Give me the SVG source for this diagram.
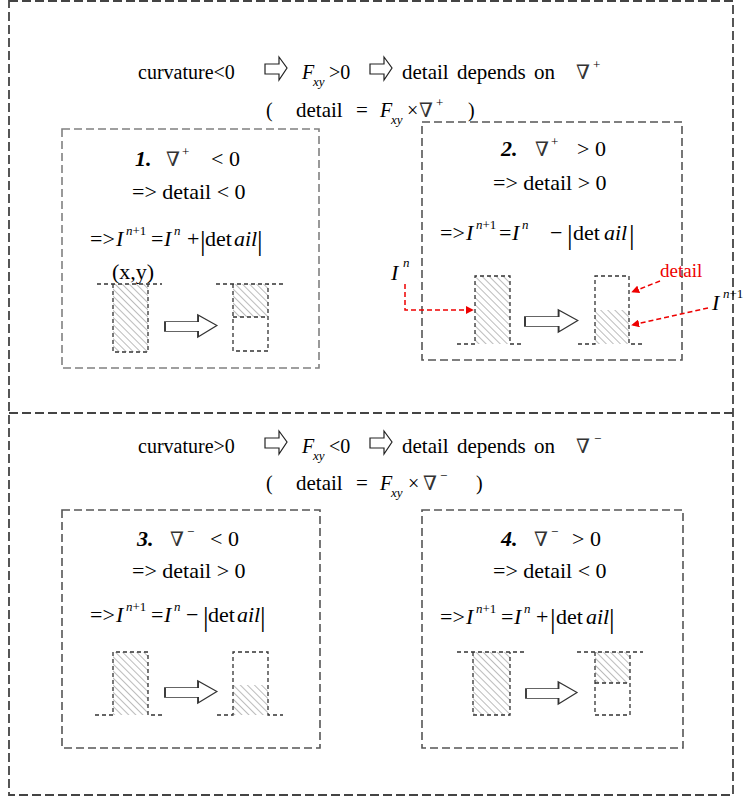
<svg xmlns="http://www.w3.org/2000/svg" width="744" height="798" viewBox="0 0 744 798">
<style>
.t{font-family:"Liberation Serif","DejaVu Serif",serif;font-size:20px;fill:#000}
.bx{font-size:22px}
.i{font-style:italic}
.b{font-weight:bold;font-style:italic}
.s{font-size:13px}
.bar{font-size:28px}
.nab{font-family:"DejaVu Serif","Liberation Serif",serif;font-size:20px;fill:#333}
.frame{fill:none;stroke:#444;stroke-width:1.8;stroke-dasharray:9 4}
.box{fill:none;stroke:#555;stroke-width:1.6;stroke-dasharray:8 4}
.d{fill:none;stroke:#333;stroke-width:1.3;stroke-dasharray:4 3}
.h{fill:url(#hatch);stroke:none}
.arr{fill:#fff;stroke:#333;stroke-width:0.8}
.glyph{fill:#fff;stroke:#222;stroke-width:1.2}
.red{fill:none;stroke:#e00;stroke-width:1.5;stroke-dasharray:5 3}
.rt{fill:#e00;font-size:19px}
</style>
<defs>
<pattern id="hatch" width="5" height="5" patternUnits="userSpaceOnUse" patternTransform="rotate(-45)">
<line x1="0" y1="0" x2="0" y2="5" stroke="#8f8f8f" stroke-width="1.2"/>
</pattern>
<marker id="rh" viewBox="0 0 10 10" refX="9" refY="5" markerWidth="8" markerHeight="8" orient="auto" markerUnits="userSpaceOnUse">
<path d="M0,0 L10,5 L0,10 z" fill="#e00"/>
</marker>
<path id="harrow" d="M0,7 H14 V0 L22,11 L14,23 V17 H0 Z"/>
</defs>
<rect width="744" height="798" fill="#fff"/>

<g id="frame">
<rect class="frame" x="9" y="1" width="724" height="794"/>
<line class="frame" x1="9" y1="413" x2="733" y2="413"/>
</g>

<g id="header-top">
<text class="t" x="138" y="79">curvature&lt;0</text>
<use href="#harrow" class="glyph" x="265" y="57"/>
<text class="t i" x="302" y="79">F</text>
<text class="t i s" x="313" y="86">xy</text>
<text class="t" x="329" y="79">&gt;0</text>
<use href="#harrow" class="glyph" x="370" y="57"/>
<text class="t" x="402" y="79" style="font-size:21px;word-spacing:3px">detail depends on</text>
<text class="t nab" x="576" y="79">∇</text>
<text class="t s" x="593" y="69">+</text>
<text class="t" x="266" y="117">(</text>
<text class="t" x="296" y="117" style="font-size:21px">detail</text>
<text class="t" x="356" y="117" style="font-size:21px">=</text>
<text class="t i" x="380" y="117">F</text>
<text class="t i s" x="391" y="124">xy</text>
<text class="t" x="407" y="117">×</text>
<text class="t nab" x="419" y="117">∇</text>
<text class="t s" x="436" y="107">+</text>
<text class="t" x="468" y="117">)</text>
</g>

<g id="header-bottom">
<text class="t" x="138" y="453">curvature&gt;0</text>
<use href="#harrow" class="glyph" x="265" y="431"/>
<text class="t i" x="302" y="453">F</text>
<text class="t i s" x="313" y="460">xy</text>
<text class="t" x="329" y="453">&lt;0</text>
<use href="#harrow" class="glyph" x="370" y="431"/>
<text class="t" x="402" y="453" style="font-size:21px;word-spacing:3px">detail depends on</text>
<text class="t nab" x="576" y="453">∇</text>
<text class="t s" x="594" y="443">−</text>
<text class="t" x="266" y="490">(</text>
<text class="t" x="296" y="490" style="font-size:21px">detail</text>
<text class="t" x="356" y="490" style="font-size:21px">=</text>
<text class="t i" x="380" y="490">F</text>
<text class="t i s" x="391" y="497">xy</text>
<text class="t" x="408" y="490">×</text>
<text class="t nab" x="423" y="490">∇</text>
<text class="t s" x="440" y="480">−</text>
<text class="t" x="476" y="490">)</text>
</g>

<g id="box1">
<rect class="box" x="62" y="129" width="257" height="239" style="stroke:#808080"/>
<text class="t bx b" x="135" y="166">1.</text>
<text class="t nab" x="166" y="166">∇</text>
<text class="t s" x="182" y="156">+</text>
<text class="t bx" x="211" y="166">&lt; 0</text>
<text class="t bx" x="132" y="199">=&gt; detail &lt; 0</text>
<text class="t bx" x="90" y="246">=&gt;</text>
<text class="t bx i" x="116" y="246">I</text>
<text class="t s" x="126" y="235"><tspan class="i">n</tspan>+1</text>
<text class="t bx" x="151" y="246">=</text>
<text class="t bx i" x="164" y="246">I</text>
<text class="t s i" x="174" y="235">n</text>
<text class="t bx" x="187" y="246">+</text>
<text class="t bar" x="200" y="250">|</text>
<text class="t bx" x="205" y="246">det</text>
<text class="t bx i" x="234" y="246">ail</text>
<text class="t bar" x="257" y="250">|</text>
<text class="t bx" x="112" y="279">(x,y)</text>
<rect class="h" x="113" y="284" width="35" height="68"/>
<path class="d" d="M97,284 H162 M113,284 V352 H148 V284"/>
<use href="#harrow" class="arr" transform="translate(165,315) scale(2.36,0.96)"/>
<rect class="h" x="233" y="284" width="35" height="33"/>
<path class="d" d="M216,284 H283 M233,284 V351 H268 V284 M233,317 H268"/>
</g>

<g id="box2">
<rect class="box" x="422" y="122" width="260" height="238"/>
<text class="t bx b" x="501" y="156">2.</text>
<text class="t nab" x="535" y="156">∇</text>
<text class="t s" x="551" y="146">+</text>
<text class="t bx" x="577" y="156">&gt; 0</text>
<text class="t bx" x="493" y="190">=&gt; detail &gt; 0</text>
<text class="t bx" x="440" y="240">=&gt;</text>
<text class="t bx i" x="466" y="240">I</text>
<text class="t s" x="476" y="229"><tspan class="i">n</tspan>+1</text>
<text class="t bx" x="499" y="240">=</text>
<text class="t bx i" x="512" y="240">I</text>
<text class="t s i" x="522" y="229">n</text>
<text class="t bx" x="550" y="240">−</text>
<text class="t bar" x="567" y="244">|</text>
<text class="t bx" x="573" y="240">det</text>
<text class="t bx i" x="604" y="240">ail</text>
<text class="t bar" x="629" y="244">|</text>
<rect class="h" x="475" y="276" width="35" height="68"/>
<path class="d" d="M457,344 H475 V276 H510 V344 H523"/>
<use href="#harrow" class="arr" transform="translate(525,310) scale(2.4,0.96)"/>
<rect class="h" x="595" y="310" width="34" height="34"/>
<path class="d" d="M578,344 H595 V276 H629 V344 H645"/>
</g>

<g id="box3">
<rect class="box" x="62" y="510" width="258" height="238"/>
<text class="t bx b" x="137" y="546">3.</text>
<text class="t nab" x="170" y="546">∇</text>
<text class="t s" x="187" y="536">−</text>
<text class="t bx" x="210" y="546">&lt; 0</text>
<text class="t bx" x="132" y="578">=&gt; detail &gt; 0</text>
<text class="t bx" x="90" y="622">=&gt;</text>
<text class="t bx i" x="116" y="622">I</text>
<text class="t s" x="126" y="611"><tspan class="i">n</tspan>+1</text>
<text class="t bx" x="151" y="622">=</text>
<text class="t bx i" x="164" y="622">I</text>
<text class="t s i" x="174" y="611">n</text>
<text class="t bx" x="186" y="622">−</text>
<text class="t bar" x="203" y="626">|</text>
<text class="t bx" x="208" y="622">det</text>
<text class="t bx i" x="237" y="622">ail</text>
<text class="t bar" x="260" y="626">|</text>
<rect class="h" x="113" y="652" width="35" height="63"/>
<path class="d" d="M95,715 H113 V652 H148 V715 H162"/>
<use href="#harrow" class="arr" transform="translate(165,681) scale(2.36,0.96)"/>
<rect class="h" x="233" y="685" width="35" height="30"/>
<path class="d" d="M217,715 H233 V652 H268 V715 H283"/>
</g>

<g id="box4">
<rect class="box" x="422" y="510" width="261" height="238"/>
<text class="t bx b" x="501" y="546">4.</text>
<text class="t nab" x="534" y="546">∇</text>
<text class="t s" x="551" y="536">−</text>
<text class="t bx" x="572" y="546">&gt; 0</text>
<text class="t bx" x="493" y="578">=&gt; detail &lt; 0</text>
<text class="t bx" x="440" y="624">=&gt;</text>
<text class="t bx i" x="466" y="624">I</text>
<text class="t s" x="476" y="613"><tspan class="i">n</tspan>+1</text>
<text class="t bx" x="501" y="624">=</text>
<text class="t bx i" x="514" y="624">I</text>
<text class="t s i" x="524" y="613">n</text>
<text class="t bx" x="536" y="624">+</text>
<text class="t bar" x="550" y="628">|</text>
<text class="t bx" x="556" y="624">det</text>
<text class="t bx i" x="586" y="624">ail</text>
<text class="t bar" x="609" y="628">|</text>
<rect class="h" x="473" y="652" width="37" height="63"/>
<path class="d" d="M457,652 H525 M473,652 V715 H510 V652"/>
<use href="#harrow" class="arr" transform="translate(526,682) scale(2.32,0.96)"/>
<rect class="h" x="595" y="652" width="35" height="31"/>
<path class="d" d="M577,652 H643 M595,652 V715 H630 V652 M595,683 H630"/>
</g>

<g id="labels">
<text class="t bx i" x="391" y="280">I</text>
<text class="t s i" x="403" y="267">n</text>
<text class="t rt" x="660" y="277">detail</text>
<text class="t bx i" x="712" y="310">I</text>
<text class="t s" x="723" y="298"><tspan class="i">n</tspan>+1</text>
</g>

<g id="connectors">
<path class="red" d="M405,284 V310 H473" marker-end="url(#rh)"/>
<path class="red" d="M660,281 L632,292" marker-end="url(#rh)"/>
<path class="red" d="M708,308 L632,325" marker-end="url(#rh)"/>
</g>
</svg>
